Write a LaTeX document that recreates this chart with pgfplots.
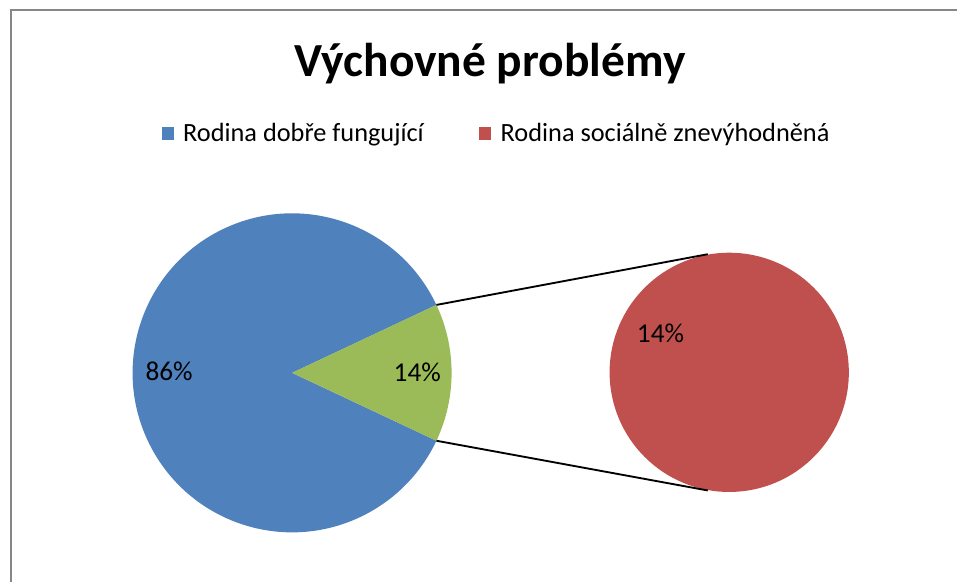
\documentclass[border=0pt]{standalone}
\usepackage{pgfplots}
\usepackage{pgfplotstable}
\usepackage{fontspec}
\setmainfont{Carlito}
\pgfplotsset{compat=1.18}

\definecolor{pieblue}{HTML}{4F81BD}
\definecolor{piegreen}{HTML}{9BBB59}
\definecolor{piered}{HTML}{C0504D}
\definecolor{framegray}{HTML}{868686}

% share of each family type (percent)
\pgfplotstableread{
group value
dobre 86
znevyhodnena 14
}\piedata

\begin{document}
\pgfplotstablegetelem{0}{value}\of\piedata \let\vMain\pgfplotsretval
\pgfplotstablegetelem{1}{value}\of\piedata \let\vSub\pgfplotsretval
\pgfmathsetmacro{\half}{3.6*\vSub/2}
\begin{tikzpicture}
\begin{axis}[
    width=717.75pt, height=437.25pt,
    scale only axis,
    xmin=0, xmax=957, ymin=0, ymax=583,
    y dir=reverse,
    hide axis,
    clip=false,
]
\coordinate (bl) at (axis cs:0,583);
\coordinate (tr) at (axis cs:957,0);
% chart frame
\draw[framegray, line width=1.5pt] (axis cs:8.5,590) -- (axis cs:8.5,10.5) -- (axis cs:965,10.5);
% title
\node[anchor=base, inner sep=0pt, font=\fontsize{35.7}{40}\selectfont\bfseries]
    at (axis cs:488.5,77) {Výchovné problémy};
% legend
\fill[pieblue] (axis cs:159,127) rectangle (axis cs:172,140);
\node[anchor=base west, inner sep=0pt, font=\fontsize{19.8}{24}\selectfont]
    at (axis cs:180.5,141.5) {Rodina dobře fungující};
\fill[piered] (axis cs:477,127) rectangle (axis cs:490,140);
\node[anchor=base west, inner sep=0pt, font=\fontsize{19.8}{24}\selectfont]
    at (axis cs:499,141.5) {Rodina sociálně znevýhodněná};
% main pie
\coordinate (c1) at (axis cs:290,374);
\fill[pieblue] (c1) -- ++(\half:120pt) arc[start angle=\half, end angle=360-\half, radius=120pt] -- cycle;
\fill[piegreen] (c1) -- ++(-\half:120pt) arc[start angle=-\half, end angle=\half, radius=120pt] -- cycle;
% second pie
\fill[piered] (axis cs:728.5,373.5) circle[radius=90pt];
% connectors
\draw[black, line width=1.4pt] (c1) ++(\half:120pt) -- (axis cs:707,255);
\draw[black, line width=1.4pt] (c1) ++(-\half:120pt) -- (axis cs:707,492);
% data labels
\node[anchor=base west, inner sep=0pt, font=\fontsize{20.5}{24}\selectfont]
    at (axis cs:142.7,382) {\vMain\%};
\node[anchor=base west, inner sep=0pt, font=\fontsize{20.5}{24}\selectfont]
    at (axis cs:391.7,382.7) {\vSub\%};
\node[anchor=base west, inner sep=0pt, font=\fontsize{20.5}{24}\selectfont]
    at (axis cs:635.7,344) {\vSub\%};
\end{axis}
\pgfresetboundingbox
\path[use as bounding box] (bl) rectangle (tr);
\end{tikzpicture}
\end{document}
